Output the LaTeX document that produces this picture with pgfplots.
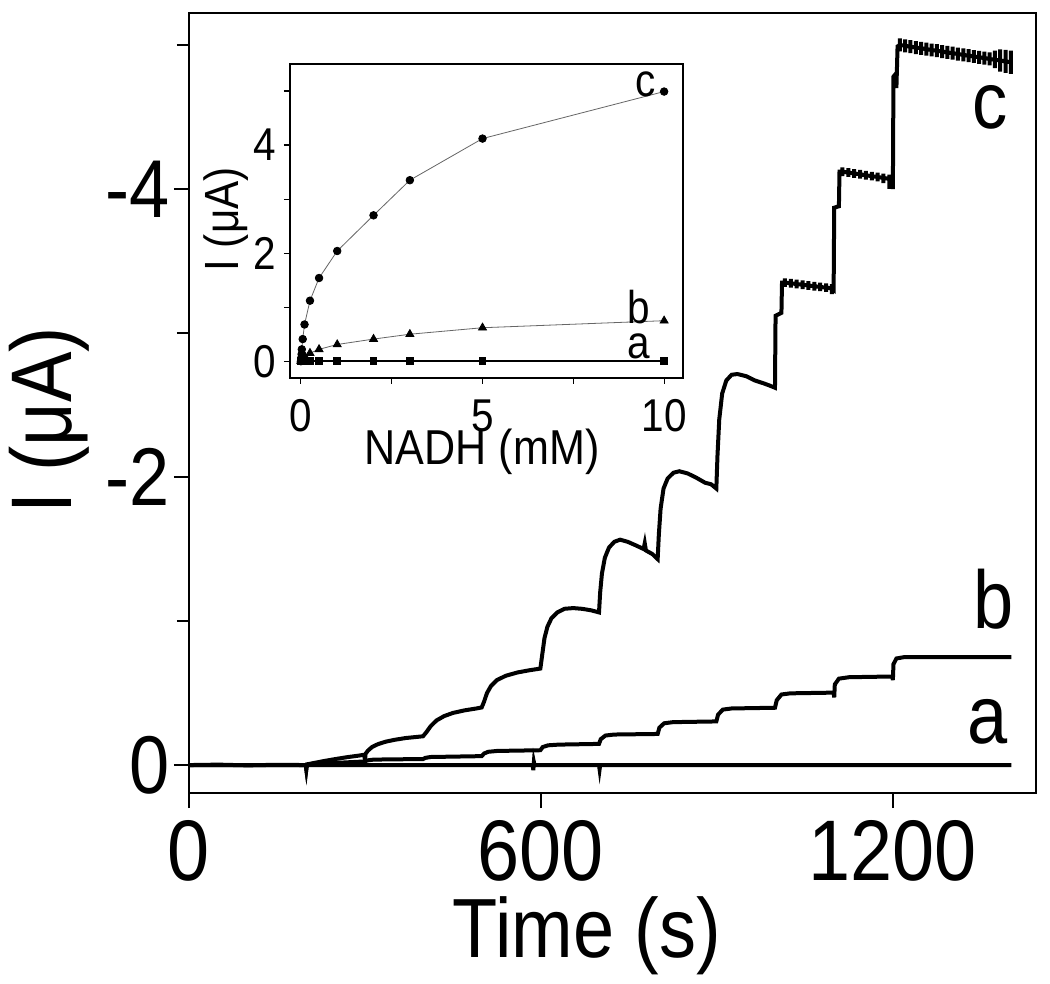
\documentclass[border=0pt]{standalone}
\usepackage{fontspec}
\setmainfont{Liberation Sans}[FakeStretch=0.88]
\usepackage{pgfplots}
\pgfplotsset{compat=1.18}
\begin{document}
\begin{tikzpicture}
\begin{axis}[
  name=main, at={(0pt,0pt)}, anchor=south west,
  scale only axis, width=423.5pt, height=390pt,
  xmin=0, xmax=1444, ymin=-5.222, ymax=0.194, y dir=reverse,
  axis line style={line width=1.4pt}, every tick/.style={line width=1.1pt, black},
  tick align=outside, xtick pos=bottom, ytick pos=left,
  major tick length=7.5pt, minor tick length=6pt,
  xtick={0,600,1200}, xticklabels={0,600,1200},
  ytick={-4,-2,0}, yticklabels={-4,-2,0}, minor ytick={-5,-3,-1},
  tick label style={inner sep=0pt},
  xticklabel style={font=\fontsize{43}{43}\selectfont, anchor=base, yshift=-36pt},
  yticklabel style={font=\fontsize{41}{41}\selectfont, anchor=east, xshift=-2pt},
  xlabel={Time (s)}, ylabel={I (μA)},
  xlabel style={at={(axis description cs:0.470,-0.2115)}, anchor=base, font=\fontsize{42}{42}\selectfont, inner sep=0pt},
  ylabel style={at={(axis description cs:-0.1393,0.478)}, anchor=base, font=\fontsize{43}{43}\selectfont, inner sep=0pt},
  clip=false,
]
\addplot[black, line width=2pt] table {
0 0
199 0
200 0.03
201 0
586 0
587 0.035
588 -0.02
589 0
699 0
700 0.03
701 0
1402 0
};
\addplot[black, line width=2pt] table {
0 0
200 0
210 -0.004
250 -0.015
299 -0.025
305 -0.033
315 -0.038
399 -0.042
403 -0.05
412 -0.056
499 -0.062
503 -0.08
510 -0.092
525 -0.098
599 -0.103
603 -0.125
612 -0.137
630 -0.142
699 -0.147
702 -0.18
710 -0.205
725 -0.212
799 -0.216
802 -0.26
810 -0.29
825 -0.298
899 -0.303
902 -0.35
910 -0.385
925 -0.393
999 -0.398
1002 -0.45
1010 -0.49
1025 -0.498
1099 -0.503
1100 -0.47
1101 -0.56
1108 -0.60
1125 -0.61
1199 -0.615
1200 -0.59
1201 -0.70
1206 -0.74
1220 -0.75
1402 -0.75
};
\addplot[black, line width=2pt] table {
0 0
50 -0.003
100 0.002
150 -0.002
199 0.0
200 0.03
201 -0.005
210 -0.012
230 -0.028
250 -0.042
270 -0.055
290 -0.066
299 -0.072
300 -0.03
301 -0.078
305 -0.10
312 -0.125
322 -0.145
335 -0.162
350 -0.175
370 -0.188
390 -0.196
399 -0.20
405 -0.23
412 -0.27
422 -0.31
435 -0.34
450 -0.362
470 -0.38
490 -0.393
499 -0.40
503 -0.44
508 -0.50
515 -0.55
525 -0.59
540 -0.62
560 -0.643
580 -0.658
599 -0.67
602 -0.76
606 -0.88
611 -0.96
618 -1.02
628 -1.06
640 -1.085
655 -1.09
670 -1.085
685 -1.075
699 -1.06
701 -1.20
704 -1.33
709 -1.44
716 -1.51
725 -1.55
735 -1.565
748 -1.55
762 -1.525
775 -1.50
777 -1.54
779 -1.49
790 -1.465
799 -1.43
801 -1.60
804 -1.78
809 -1.92
816 -1.99
826 -2.03
836 -2.04
850 -2.025
865 -1.995
880 -1.96
890 -1.95
899 -1.92
901 -2.15
904 -2.40
909 -2.58
916 -2.67
925 -2.71
935 -2.715
950 -2.70
965 -2.67
980 -2.65
990 -2.635
999 -2.62
1000 -3.12
1010 -3.14
1011 -3.35
1016 -3.350
1016 -3.380
1016 -3.320
1016 -3.350
1026 -3.345
1026 -3.375
1026 -3.315
1026 -3.345
1036 -3.340
1036 -3.370
1036 -3.310
1036 -3.340
1046 -3.335
1046 -3.365
1046 -3.305
1046 -3.335
1056 -3.330
1056 -3.360
1056 -3.300
1056 -3.330
1066 -3.325
1066 -3.355
1066 -3.295
1066 -3.325
1076 -3.320
1076 -3.350
1076 -3.290
1076 -3.320
1086 -3.315
1086 -3.345
1086 -3.285
1086 -3.315
1096 -3.310
1096 -3.340
1096 -3.270
1096 -3.310
1099 -3.30
1100 -3.87
1108 -3.88
1109 -4.12
1114 -4.120
1114 -4.150
1114 -4.090
1114 -4.120
1124 -4.114
1124 -4.144
1124 -4.084
1124 -4.114
1134 -4.108
1134 -4.138
1134 -4.078
1134 -4.108
1144 -4.102
1144 -4.132
1144 -4.072
1144 -4.102
1154 -4.095
1154 -4.125
1154 -4.065
1154 -4.095
1164 -4.089
1164 -4.119
1164 -4.059
1164 -4.089
1174 -4.083
1174 -4.113
1174 -4.053
1174 -4.083
1184 -4.077
1184 -4.107
1184 -4.040
1184 -4.077
1194 -4.070
1194 -4.100
1194 -4.000
1194 -4.070
1199 -4.06
1200 -4.00
1201 -4.78
1205 -4.80
1206 -4.70
1208 -4.99
1212 -5.000
1212 -5.045
1212 -4.955
1212 -5.000
1221 -4.994
1221 -5.039
1221 -4.949
1221 -4.994
1230 -4.988
1230 -5.033
1230 -4.943
1230 -4.988
1239 -4.982
1239 -5.027
1239 -4.937
1239 -4.982
1248 -4.977
1248 -5.022
1248 -4.932
1248 -4.977
1257 -4.971
1257 -5.016
1257 -4.926
1257 -4.971
1266 -4.965
1266 -5.010
1266 -4.920
1266 -4.965
1275 -4.960
1275 -5.005
1275 -4.915
1275 -4.960
1284 -4.954
1284 -4.999
1284 -4.909
1284 -4.954
1293 -4.948
1293 -4.993
1293 -4.903
1293 -4.948
1302 -4.943
1302 -4.988
1302 -4.898
1302 -4.943
1311 -4.937
1311 -4.982
1311 -4.892
1311 -4.937
1320 -4.931
1320 -4.976
1320 -4.886
1320 -4.931
1329 -4.926
1329 -4.971
1329 -4.881
1329 -4.926
1338 -4.920
1338 -4.965
1338 -4.875
1338 -4.920
1347 -4.914
1347 -4.959
1347 -4.869
1347 -4.914
1356 -4.909
1356 -4.954
1356 -4.864
1356 -4.909
1365 -4.903
1365 -4.948
1365 -4.858
1365 -4.903
1374 -4.897
1374 -4.960
1374 -4.840
1374 -4.897
1383 -4.892
1383 -4.970
1383 -4.815
1383 -4.892
1392 -4.886
1392 -4.966
1392 -4.806
1392 -4.886
1401 -4.880
1401 -4.960
1401 -4.800
1401 -4.880
};
\node[font=\fontsize{40}{40}\selectfont, inner sep=0pt] at (axis cs:1365,-4.57) {c};
\node[font=\fontsize{41}{41}\selectfont, inner sep=0pt] at (axis cs:1372,-1.15) {b};
\node[font=\fontsize{41}{41}\selectfont, inner sep=0pt] at (axis cs:1362,-0.30) {a};
\end{axis}
\begin{axis}[
  name=inset, at={(50.5pt,207.5pt)}, anchor=south west,
  scale only axis, width=196.5pt, height=157pt,
  xmin=-0.30, xmax=10.52, ymin=-0.31, ymax=5.5,
  axis background/.style={fill=white},
  axis line style={line width=0.6pt}, every tick/.style={line width=0.6pt, black},
  tick align=outside, xtick pos=bottom, ytick pos=left,
  major tick length=3pt, minor tick length=3pt,
  xtick={0,5,10}, xticklabels={0,5,10}, minor xtick={2.5,7.5},
  ytick={0,2,4}, yticklabels={0,2,4}, minor ytick={1,3,5},
  tick label style={font=\fontsize{23}{23}\selectfont, inner sep=0pt},
  xticklabel style={anchor=base, yshift=-24pt},
  yticklabel style={anchor=east, xshift=-4pt},
  xlabel={NADH (mM)}, ylabel={I (μA)},
  xlabel style={at={(axis description cs:0.489,-0.277)}, anchor=base, font=\fontsize{24.5}{24.5}\selectfont, inner sep=0pt},
  ylabel style={at={(axis description cs:-0.1298,0.505)}, anchor=base, font=\fontsize{24}{24}\selectfont, inner sep=0pt},
  clip=false,
]
\addplot[black, line width=1.2pt, mark=square*, mark size=1.3pt] table {
0 0
0.01 0
0.02 0
0.05 0
0.1 0
0.25 0
0.5 0
1 0
2 0
3 0
5 0
10 0
};
\addplot[gray!80!black, line width=0.4pt, mark=triangle*, mark size=2.3pt, mark options={black, fill=black}] table {
0 0
0.01 0.02
0.02 0.04
0.05 0.08
0.1 0.10
0.25 0.15
0.5 0.22
1 0.31
2 0.41
3 0.50
5 0.62
10 0.75
};
\addplot[gray!80!black, line width=0.4pt, mark=*, mark size=1.9pt, mark options={black, fill=black}] table {
0 0
0.01 0.06
0.02 0.13
0.025 0.22
0.05 0.41
0.1 0.68
0.25 1.12
0.5 1.54
1 2.04
2 2.70
3 3.35
5 4.12
10 4.99
};
\node[font=\fontsize{23}{23}\selectfont, inner sep=0pt] at (axis cs:9.5,5.13) {c};
\node[font=\fontsize{23}{23}\selectfont, inner sep=0pt] at (axis cs:9.29,1.00) {b};
\node[font=\fontsize{23}{23}\selectfont, inner sep=0pt] at (axis cs:9.31,0.28) {a};
\end{axis}
\pgfresetboundingbox
\path (-94.5pt,-95.5pt) rectangle (430.5pt,396.5pt);
\end{tikzpicture}
\end{document}
